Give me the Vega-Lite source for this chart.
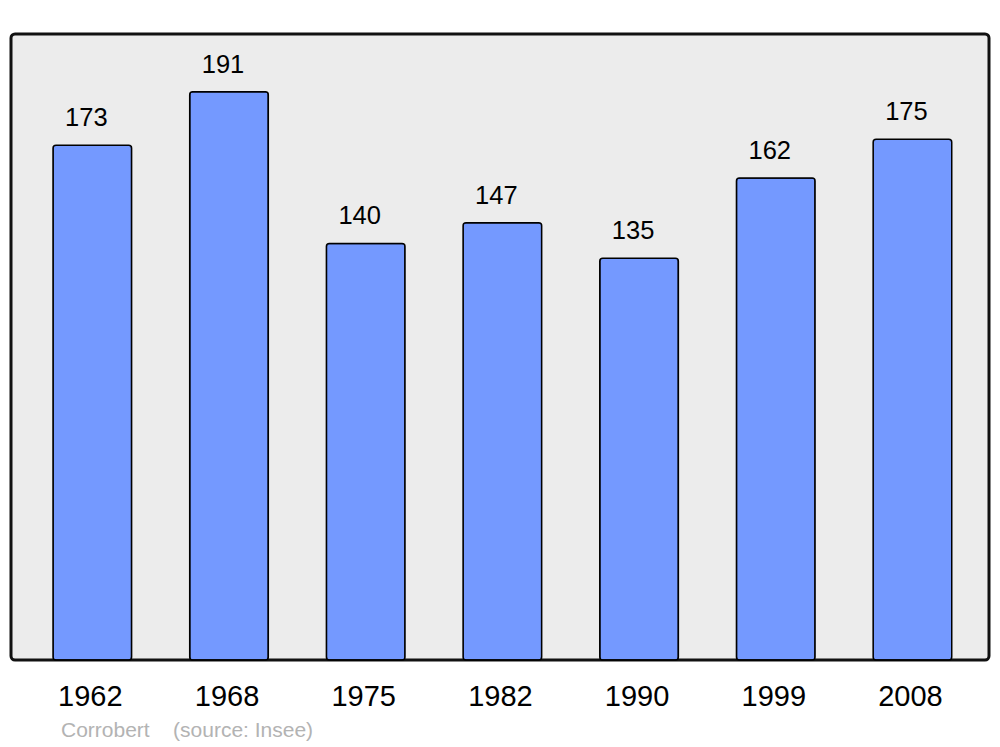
{
  "$schema": "https://vega.github.io/schema/vega-lite/v6.json",
  "width": 978,
  "height": 626,
  "autosize": {"type": "none"},
  "padding": {"left": 11, "top": 34, "right": 11, "bottom": 87},
  "background": "#ffffff",
  "config": {
    "font": "Liberation Sans",
    "view": {"fill": "#ececec", "stroke": "#111111", "strokeWidth": 3, "cornerRadius": 4}
  },
  "title": {
    "text": "Corrobert\u00a0\u00a0\u00a0\u00a0(source: Insee)",
    "orient": "bottom",
    "anchor": "start",
    "dx": 50,
    "offset": 9,
    "fontSize": 21,
    "fontWeight": "normal",
    "color": "#b3b3b3",
    "font": "Liberation Sans"
  },
  "data": {
    "values": [
      {"year": "1962", "pop": 173},
      {"year": "1968", "pop": 191},
      {"year": "1975", "pop": 140},
      {"year": "1982", "pop": 147},
      {"year": "1990", "pop": 135},
      {"year": "1999", "pop": 162},
      {"year": "2008", "pop": 175}
    ]
  },
  "encoding": {
    "x": {
      "field": "year",
      "type": "ordinal",
      "scale": {"paddingInner": 0.425, "paddingOuter": 0.29, "align": 0.53},
      "axis": {
        "title": null,
        "domain": false,
        "ticks": false,
        "labelAngle": 0,
        "labelFontSize": 29,
        "labelColor": "#000000",
        "labelBaseline": "alphabetic",
        "labelPadding": 45,
        "labelOffset": -2
      }
    },
    "y": {
      "field": "pop",
      "type": "quantitative",
      "scale": {"domain": [0, 210.4]},
      "axis": null
    }
  },
  "layer": [
    {
      "mark": {"type": "bar", "fill": "#7499ff", "stroke": "#000000", "strokeWidth": 1.5, "cornerRadius": 3}
    },
    {
      "mark": {"type": "text", "dy": -19, "dx": -6, "baseline": "alphabetic", "fontSize": 25.5, "color": "#000000"},
      "encoding": {"text": {"field": "pop", "type": "quantitative"}}
    }
  ]
}
